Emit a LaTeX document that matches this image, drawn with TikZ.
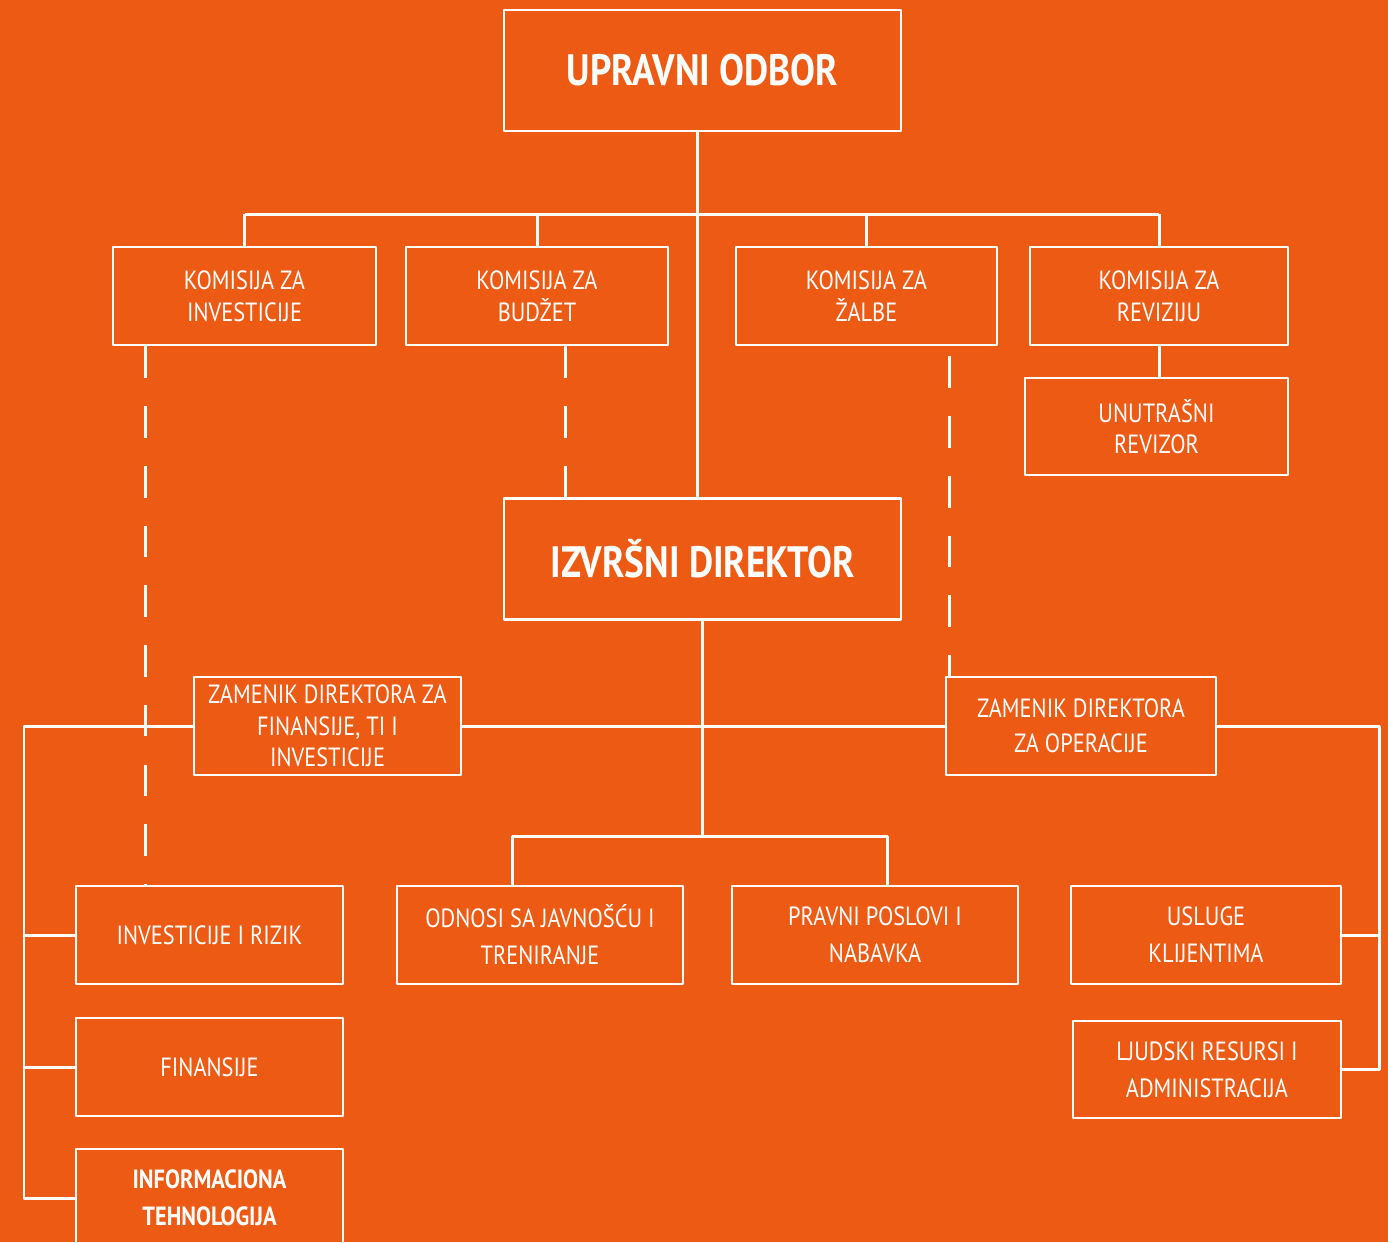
\documentclass[tikz,border=0pt]{standalone}
\usepackage{fontspec}
\setmainfont{PT Sans}[FakeStretch=0.85]
\definecolor{narandza}{RGB}{236,90,20}
\begin{document}
\begin{tikzpicture}[x=0.02cm,y=-0.02cm, line join=round, font=\fontsize{15}{18}\selectfont,
	kutija/.style={draw=white, line width=1.6pt, text=white, align=center, inner sep=0pt, minimum height=1.96cm},
	naslov/.style={kutija, minimum width=7.94cm, minimum height=2.42cm, font=\fontsize{25}{30}\selectfont\bfseries},
	donji/.style={kutija, font=\fontsize{15}{21}\selectfont},
	veza/.style={white, line width=1.7pt},
	isprek/.style={veza, dash pattern=on 18pt off 16pt}]
	\fill[narandza] (0,0) rectangle (1388,1242);
	\useasboundingbox (0,0) rectangle (1388,1242);
	% vrh
	\node[naslov] (uo) at (702.5,70.5) {UPRAVNI ODBOR};
	\node[naslov] (id) at (702.5,559) {IZVRŠNI DIREKTOR};
	% komisije
	\node[kutija, minimum width=5.26cm] (kinv) at (244.5,296) {KOMISIJA ZA\\INVESTICIJE};
	\node[kutija, minimum width=5.24cm] (kbud) at (537,296) {KOMISIJA ZA\\BUDŽET};
	\node[kutija, minimum width=5.22cm] (kzal) at (866.5,296) {KOMISIJA ZA\\ŽALBE};
	\node[kutija, minimum width=5.16cm] (krev) at (1159,296) {KOMISIJA ZA\\REVIZIJU};
	\node[kutija, minimum width=5.26cm, minimum height=1.94cm] (urev) at (1156.5,426.5) {UNUTRAŠNI\\REVIZOR};
	% zamenici
	\node[kutija, minimum width=5.34cm] (zdf) at (327.5,726) {ZAMENIK DIREKTORA ZA\\FINANSIJE, TI I\\INVESTICIJE};
	\node[donji, minimum width=5.40cm, font=\fontsize{15}{20}\selectfont] (zdo) at (1081,726) {ZAMENIK DIREKTORA\\ZA OPERACIJE};
	% sektori
	\node[donji, minimum width=5.34cm] (ir) at (209.5,935) {INVESTICIJE I RIZIK};
	\node[donji, minimum width=5.34cm] (fin) at (209.5,1067) {FINANSIJE};
	\node[donji, minimum width=5.34cm, font=\fontsize{15}{21}\selectfont\bfseries] (it) at (209.5,1198) {INFORMACIONA\\TEHNOLOGIJA};
	\node[donji, minimum width=5.72cm] (odn) at (540,935) {ODNOSI SA JAVNOŠĆU I\\TRENIRANJE};
	\node[donji, minimum width=5.72cm] (pra) at (875,935) {PRAVNI POSLOVI I\\NABAVKA};
	\node[donji, minimum width=5.40cm] (usl) at (1206,935) {USLUGE\\KLIJENTIMA};
	\node[donji, minimum width=5.36cm, minimum height=1.94cm] (ljr) at (1207,1069.5) {LJUDSKI RESURSI I\\ADMINISTRACIJA};
	% veze
	\coordinate (sab1) at (0,214);
	\coordinate (sab3) at (0,836);
	\coordinate (lijevo) at (24,0);
	\coordinate (desno) at (1379,0);
	\draw[veza] ([xshift=-0.1cm]uo.south) -- ([xshift=-0.1cm]id.north);
	\draw[veza] (kinv.north |- sab1) -- (krev.north |- sab1);
	\foreach \k in {kinv,kbud,kzal,krev}
	\draw[veza] (\k.north) -- (\k.north |- sab1);
	\draw[veza] (krev.south) -- (krev.south |- urev.north);
	\draw[isprek] ([xshift=0.68cm]kinv.south west) -- ([xshift=0.68cm]kinv.south west |- ir.north);
	\draw[isprek] ([xshift=3.22cm]kbud.south west) -- ([xshift=3.22cm]kbud.south west |- id.north);
	\draw[isprek] ([xshift=4.3cm,yshift=-0.2cm]kzal.south west) -- ([xshift=4.3cm]kzal.south west |- zdo.north);
	\draw[veza] (id.south) -- (id.south |- sab3);
	\draw[veza] (zdf.east) -- (zdo.west);
	\draw[veza] ([xshift=2.34cm]odn.north west) -- ([xshift=2.34cm]odn.north west |- sab3) -- ([xshift=3.14cm]pra.north west |- sab3) -- ([xshift=3.14cm]pra.north west);
	\draw[veza] (zdf.west) -| (lijevo |- it.west) -- (it.west);
	\foreach \k in {ir,fin}
	\draw[veza] (\k.west) -- (lijevo |- \k.west);
	\draw[veza] (zdo.east) -| (desno |- ljr.east) -- (ljr.east);
	\draw[veza] (usl.east) -- (desno |- usl.east);
\end{tikzpicture}
\end{document}
